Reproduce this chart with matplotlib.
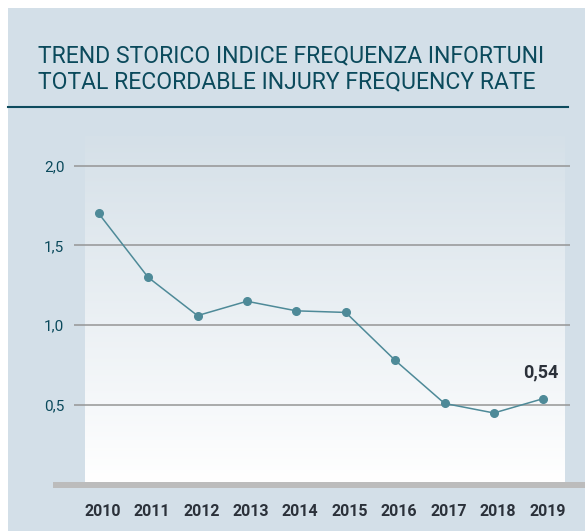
import numpy as np
import matplotlib.pyplot as plt
from matplotlib.patches import Rectangle
from matplotlib.ticker import FuncFormatter

# Dati
anni = ['2010', '2011', '2012', '2013', '2014', '2015', '2016', '2017', '2018', '2019']
indice = [1.70, 1.30, 1.06, 1.15, 1.09, 1.08, 0.78, 0.51, 0.45, 0.54]
yticks = [0.5, 1.0, 1.5, 2.0]
titolo = ['TREND STORICO INDICE FREQUENZA INFORTUNI',
          'TOTAL RECORDABLE INJURY FREQUENCY RATE']

W, H = 585, 531
plt.rcParams['font.family'] = ['Roboto', 'DejaVu Sans']

fig = plt.figure(figsize=(W / 100, H / 100), dpi=100)
fig.patch.set_facecolor('white')


# coordinate in pixel -> frazione della figura
def fx(x):
    return x / W


def fy(y):
    return 1 - y / H


def box(x0, y0, x1, y1):
    return [fx(x0), fy(y1), fx(x1) - fx(x0), fy(y0) - fy(y1)]


# Sfondo (un asse dietro a tutto)
sfondo = fig.add_axes([0, 0, 1, 1], zorder=0)
sfondo.set_xlim(0, W)
sfondo.set_ylim(H, 0)
sfondo.axis('off')
sfondo.add_patch(Rectangle((8, 8), W - 8, H - 8, facecolor='#d3dfe8', edgecolor='none'))
sfondo.plot([8, 568], [106.5, 106.5], color='#0d4b5e', lw=1.5)

# Titolo
teal = '#0b4a5c'
sfondo.text(38, 56, titolo[0], color=teal, fontsize=16.6, va='center', ha='left')
sfondo.text(38, 82, titolo[1], color=teal, fontsize=16.6, va='center', ha='left')

# Pannello con sfumatura
bg = fig.add_axes(box(85, 136, 565, 482), zorder=1)
grad = np.linspace(0, 1, 256).reshape(-1, 1)
top = np.array([0xd5, 0xe0, 0xe8]) / 255
bot = np.array([1.0, 1.0, 1.0])
img = top + (bot - top) * grad[:, :, None]
bg.imshow(img, aspect='auto', extent=[0, 1, 0, 1])
bg.axis('off')

# Grafico
x0, dx = 98.7, 49.4
y_zero, dy = 484.8, 159.6
ax = fig.add_axes(box(74, 136, 570, y_zero), zorder=2)
ax.patch.set_visible(False)
ax.set_xlim((74 - x0) / dx, (570 - x0) / dx)
ax.set_ylim(0, (y_zero - 136) / dy)
for s in ax.spines.values():
    s.set_visible(False)

for v in yticks:
    ax.axhline(v, color='#959595', lw=1.1, zorder=1)

x = np.arange(len(anni))
ax.plot(x, indice, color='#4e8a98', lw=1.1, marker='o', markersize=5.5,
        markerfacecolor='#4e8a98', markeredgecolor='#4e8a98', zorder=4)

ax.set_yticks(yticks)
ax.yaxis.set_major_formatter(FuncFormatter(lambda v, p: f'{v:.1f}'.replace('.', ',')))
ax.tick_params(axis='y', length=0, pad=7, labelsize=11, labelcolor=teal)

ax.set_xticks(x + 0.08)
ax.set_xticklabels(anni, fontweight='bold', fontsize=11.5, color='#2b313a')
ax.tick_params(axis='x', length=0, pad=14)

ax.annotate(f'{indice[-1]:.2f}'.replace('.', ','), (x[-1], indice[-1]),
            xytext=(-2, 19), textcoords='offset points', ha='center', va='center',
            fontsize=13, fontweight='bold', color='#2b313a')

# Barra grigia sul fondo del pannello
barra = fig.add_axes([0, 0, 1, 1], zorder=3)
barra.set_xlim(0, W)
barra.set_ylim(H, 0)
barra.axis('off')
barra.add_patch(Rectangle((53, 482), W - 53, 5.5, facecolor='#bcbcbc', edgecolor='none'))

fig.savefig('out.png', dpi=100)
